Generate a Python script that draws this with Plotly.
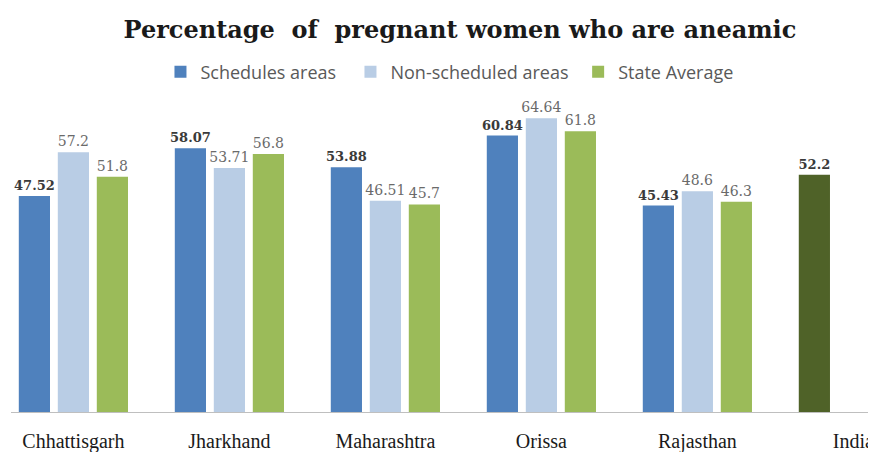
import plotly.graph_objects as go

categories = ["Chhattisgarh", "Jharkhand", "Maharashtra", "Orissa", "Rajasthan", "India"]
schedules = [47.52, 58.07, 53.88, 60.84, 45.43, 52.2]
non_scheduled = [57.2, 53.71, 46.51, 64.64, 48.6, None]
state_avg = [51.8, 56.8, 45.7, 61.8, 46.3, None]
series_names = ["Schedules areas", "Non-scheduled areas", "State Average"]

blue = "#4F81BD"
light_blue = "#B9CDE5"
green = "#9BBB59"
india_green = "#4F6228"

label_font_bold = dict(family="DejaVu Serif", size=13, color="#3a3a3a", weight="bold")
label_font = dict(family="DejaVu Serif", size=14, color="#6a6a6a")


def fmt(vals):
    return [f"{v:g}" if v is not None else "" for v in vals]


common = dict(textposition="outside", constraintext="none", cliponaxis=False)

fig = go.Figure()
fig.add_trace(go.Bar(
    name=series_names[0] + "\u00a0\u00a0", x=categories, y=schedules,
    marker=dict(color=[blue] * 5 + [india_green], line=dict(width=0)),
    text=fmt(schedules), textfont=label_font_bold, **common,
))
fig.add_trace(go.Bar(
    name=series_names[1] + "\u00a0", x=categories, y=non_scheduled,
    marker=dict(color=light_blue, line=dict(width=0)),
    text=fmt(non_scheduled), textfont=label_font, **common,
))
fig.add_trace(go.Bar(
    name=series_names[2], x=categories, y=state_avg,
    marker=dict(color=green, line=dict(width=0)),
    text=fmt(state_avg), textfont=label_font, **common,
))

# page body has an 8px margin, so the figure is sized 8px smaller
fig.update_layout(
    width=868, height=444,
    margin=dict(l=3, r=0, t=86, b=40),
    paper_bgcolor="white", plot_bgcolor="white",
    barmode="group", bargap=0.25, bargroupgap=0.2,
    title=dict(
        text="Percentage  of  pregnant women who are aneamic",
        x=0.519, xanchor="center", xref="paper",
        y=1 - 22 / 444, yanchor="middle", yref="container",
        font=dict(family="DejaVu Serif", size=24, color="#1a1a1a", weight="bold"),
    ),
    legend=dict(
        orientation="h", x=0.1728, xanchor="left", y=1.069, yanchor="middle",
        font=dict(family="Open Sans", size=18, color="#595959"),
        itemwidth=30, traceorder="normal",
    ),
    xaxis=dict(
        type="category", range=[-0.4, 5.145],
        showline=True, linecolor="#BFBFBF", linewidth=1,
        ticks="", showgrid=False, ticklabelstandoff=11, automargin=False,
        tickfont=dict(family="Liberation Serif", size=20, color="#1a1a1a"),
    ),
    yaxis=dict(range=[0, 70], visible=False, showgrid=False, zeroline=False),
)

fig.write_html("out.html")
